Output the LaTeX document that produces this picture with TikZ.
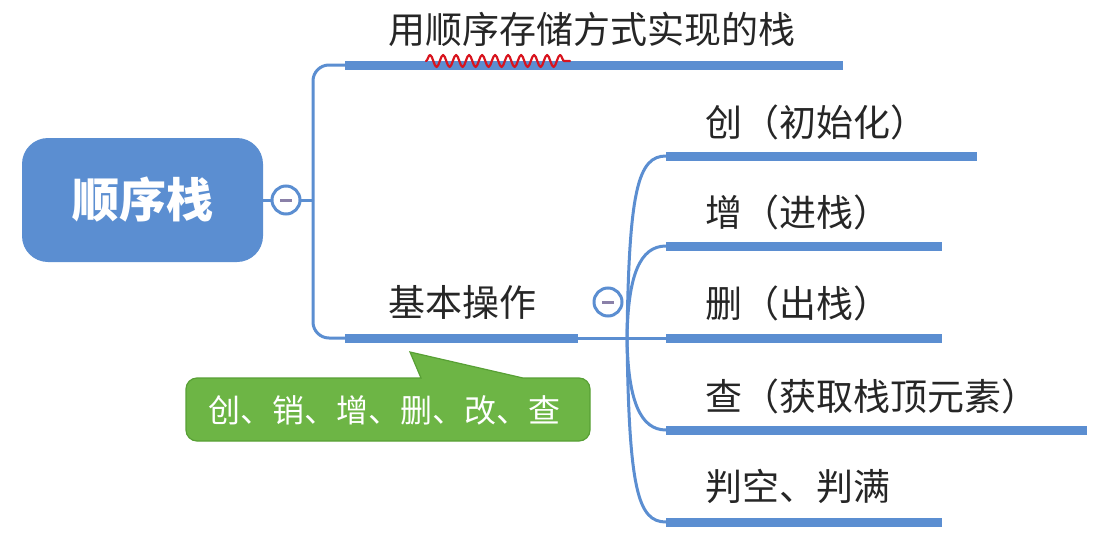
\documentclass[tikz,border=0pt]{standalone}
\usepackage{fontspec}
\setmainfont{Noto Sans CJK SC}
\usetikzlibrary{decorations.pathmorphing}
\definecolor{mblue}{HTML}{5B8ED1}
\definecolor{mgreen}{HTML}{6DB545}
\definecolor{mgreenb}{HTML}{58A035}
\definecolor{minusc}{HTML}{8A80A8}
\definecolor{sqred}{HTML}{D8141E}
\begin{document}
\begin{tikzpicture}[x=1pt,y=-1pt,
  bar/.style={line width=9pt, mblue},
  link/.style={line width=3pt, mblue},
  lbl/.style={font=\fontsize{37}{40}\selectfont, anchor=base west, inner sep=0pt, text=black!85},
  fold/.style={circle, draw=mblue, line width=3pt, fill=white, minimum size=28pt, inner sep=0pt},
  minusline/.style={minusc, line width=3pt}]
\useasboundingbox (0,0) rectangle (1094,546);

% root
\node[fill=mblue, rounded corners=26pt, minimum width=241pt, minimum height=124pt,
      text=white, font=\fontsize{47}{50}\selectfont\bfseries] (root) at (142.5,200) {顺序栈};

% first level
\coordinate (t1) at (313,200);
\coordinate (b1s) at (345,65);  \coordinate (b1e) at (843,65);
\coordinate (b2s) at (345,338); \coordinate (b2e) at (578,338);
\draw[link] (root.east) -- (t1);
\draw[link, rounded corners=16pt] (t1) |- (b1s);
\draw[link, rounded corners=16pt] (t1) |- (b2s);
\draw[bar] (b1s) -- (b1e);
\draw[bar] (b2s) -- (b2e);
\node[fold] (f1) at (286,200) {};
\draw[minusline] ([xshift=-6pt]f1.center) -- ([xshift=6pt]f1.center);

\node[lbl] (l1) at (388,43) {用顺序存储方式实现的栈};
\node[lbl] (l2) at (388,316) {基本操作};

% red squiggle
\coordinate (sq1) at (426,61);
\coordinate (sq2) at (570,61);
\draw[sqred, line width=2.2pt, line cap=round, line join=round, decorate,
      decoration={snake, amplitude=6pt, segment length=13pt}] (sq1) -- (sq2);

% second level
\coordinate (o2) at (627,338);
\coordinate (c1s) at (666,156); \coordinate (c1e) at (977,156);
\coordinate (c2s) at (666,246); \coordinate (c2e) at (942,246);
\coordinate (c3s) at (666,338); \coordinate (c3e) at (942,338);
\coordinate (c4s) at (666,430); \coordinate (c4e) at (1087,430);
\coordinate (c5s) at (666,522); \coordinate (c5e) at (942,522);
\draw[link] (b2e) -- (c3s);
\draw[link] (o2) .. controls (629,190) and (638,156) .. (c1s);
\draw[link] (o2) .. controls (628,275) and (640,246) .. (c2s);
\draw[link] (o2) .. controls (628,400) and (640,430) .. (c4s);
\draw[link] (o2) .. controls (629,490) and (638,522) .. (c5s);
\foreach \i in {1,...,5} { \draw[bar] (c\i s) -- (c\i e); }
\node[fold] (f2) at (608,302) {};
\draw[minusline] ([xshift=-6pt]f2.center) -- ([xshift=6pt]f2.center);

\node[lbl] (m1) at (705,136) {创（初始化）};
\node[lbl] (m2) at (705,226) {增（进栈）};
\node[lbl] (m3) at (705,317) {删（出栈）};
\node[lbl] (m4) at (705,410) {查（获取栈顶元素）};
\node[lbl] (m5) at (705,500) {判空、判满};

% callout
\filldraw[fill=mgreen, draw=mgreenb, line width=1.2pt]
  (421,378) -- (410,352) -- (523,378) -- (575,378) [rounded corners=11pt] -- (590,378) -- (590,441)
  -- (186,441) -- (186,378) -- (300,378) [sharp corners] -- cycle;
\node[text=white, font=\fontsize{32}{36}\selectfont, inner sep=0pt] (note) at (384,410) {创、销、增、删、改、查};
\end{tikzpicture}
\end{document}
